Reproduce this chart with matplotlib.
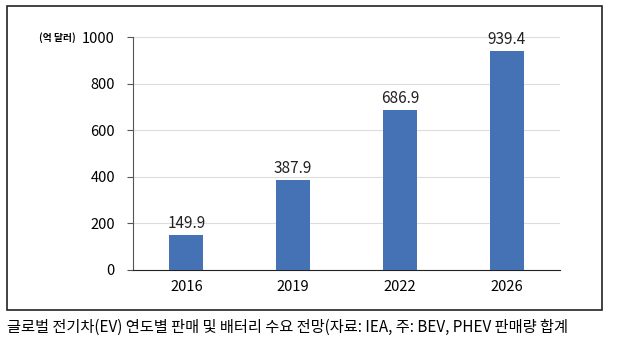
import matplotlib.pyplot as plt
from matplotlib.patches import Rectangle

plt.rcParams['font.family'] = ['Noto Sans CJK KR', 'DejaVu Sans']

years = ['2016', '2019', '2022', '2026']
sales = [149.9, 387.9, 686.9, 939.4]
yticks = [0, 200, 400, 600, 800, 1000]

fig = plt.figure(figsize=(6.26, 3.5), dpi=100)
ax = fig.add_axes([0.2125, 0.2286, 0.682, 0.6654])

x = range(len(years))
bars = ax.bar(x, sales, width=0.32, color='#4472B4', zorder=3)
for b, v in zip(bars, sales):
    ax.text(b.get_x() + b.get_width() / 2, v + 12, f'{v:.1f}', ha='center', va='bottom',
            fontsize=11, color='#222222')

ax.set_xlim(-0.5, len(years) - 0.5)
ax.set_ylim(0, 1000)
ax.set_yticks(yticks)
ax.set_yticklabels([str(t) for t in yticks], fontsize=10.5)
ax.set_xticks(list(x))
ax.set_xticklabels(years, fontsize=10.5)
ax.tick_params(axis='x', length=0, pad=7)
ax.tick_params(axis='y', length=4, direction='out', pad=9, color='#555555')
ax.yaxis.grid(True, color='#dddddd', linewidth=0.8, zorder=0)
for s in ['top', 'right']:
    ax.spines[s].set_visible(False)
ax.spines['left'].set_color('#555555')
ax.spines['bottom'].set_color('#222222')

fig.text(0.062, 0.894, '(억 달러)', fontsize=7, fontweight='bold', ha='left', va='center')

fig.patches.append(Rectangle((0.011, 0.114), 0.9507, 0.869, transform=fig.transFigure,
                             fill=False, edgecolor='#222222', linewidth=1.2))

fig.text(0.011, 0.065, '글로벌 전기차(EV) 연도별 판매 및 배터리 수요 전망(자료: IEA, 주: BEV, PHEV 판매량 합계',
         fontsize=11, ha='left', va='center')

fig.savefig('out.png', dpi=100)
